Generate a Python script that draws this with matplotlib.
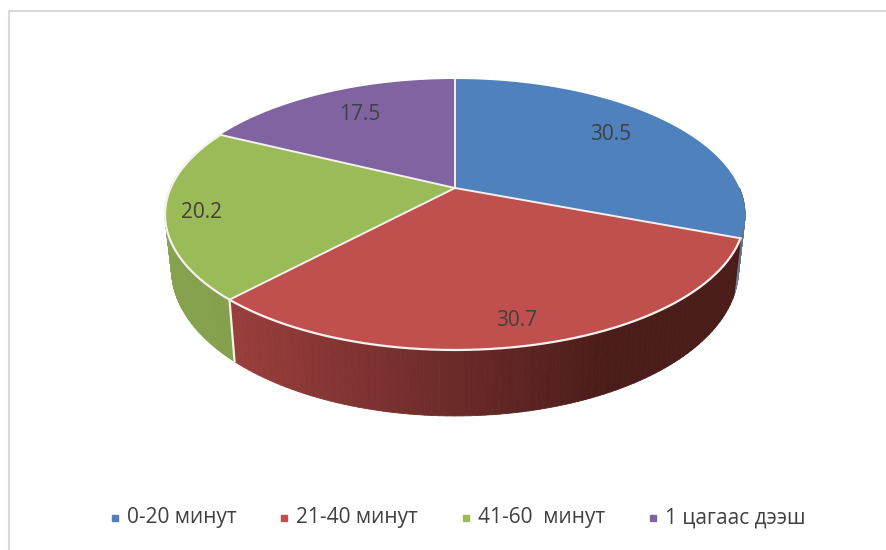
"""Perspective 3-D pie with a bottom legend."""
import matplotlib
matplotlib.use("Agg")
import matplotlib.pyplot as plt
import numpy as np
from matplotlib.collections import PolyCollection
from matplotlib.colors import to_rgb

categories = ["0-20 минут", "21-40 минут", "41-60  минут", "1 цагаас дээш"]
values = [30.5, 30.7, 20.2, 17.5]
value_labels = ["30.5", "30.7", "20.2", "17.5"]

TOP_COLORS = ["#4f81bd", "#c0504d", "#9bbb59", "#8064a2"]
# side wall shading, left end -> right end of the visible wall
SIDE_RAMPS = {
    0: ("#7f8f9f", "#4f5f6f"),
    1: ("#983e3c", "#4a1c1a"),
    2: ("#8aa653", "#84a04c"),
    3: ("#66508a", "#66508a"),
}
TEXT = "#404040"
FRAME = "#d9d9d9"

plt.rcParams["font.family"] = ["Open Sans", "DejaVu Sans"]

# perspective disc, pixel units
CX = 455
TILT = 0.1956
TOP = dict(a=284.4, b=130.3, y0=188.0)
BOT = dict(a=278.0, b=140.9, y0=240.8)


def project(theta, plane):
    u, v = np.cos(theta), np.sin(theta)
    w = 1 + TILT * v
    return CX + plane["a"] * u / w, plane["y0"] - plane["b"] * v / w


fig = plt.figure(figsize=(8.86, 5.5), dpi=100)
ax = fig.add_axes([0, 0, 1, 1])
ax.set_xlim(0, 886)
ax.set_ylim(550, 0)
ax.axis("off")

# chart frame: only the top and left edges are inside the crop
ax.plot([9, 9, 886], [550, 11, 11], color=FRAME, linewidth=1.5, zorder=1)

shares = np.array(values) / sum(values)
edges = np.pi / 2 - 2 * np.pi * np.concatenate([[0], np.cumsum(shares)])

# side walls (only the front half of the disc shows)
for i in range(len(values)):
    start, stop = edges[i], edges[i + 1]
    lo, hi = max(stop, -np.pi * 1.08), min(start, 0.0)
    if i == 3 or lo >= hi:
        continue
    ts = np.linspace(lo, hi, 90)
    quads, cols = [], []
    c_left, c_right = map(np.array, map(to_rgb, SIDE_RAMPS[i]))
    for t0, t1 in zip(ts[:-1], ts[1:]):
        x0, y0 = project(t0, TOP)
        x1, y1 = project(t1, TOP)
        x2, y2 = project(t1, BOT)
        x3, y3 = project(t0, BOT)
        quads.append([(x0, y0), (x1, y1), (x2, y2), (x3, y3)])
        f = (x0 - 236) / (610 - 236) if i == 1 else (t0 - lo) / (hi - lo)
        f = np.clip(f, 0, 1)
        cols.append(c_left * (1 - f) + c_right * f)
    ax.add_collection(PolyCollection(quads, facecolors=cols, edgecolors=cols,
                                     linewidths=0.6, zorder=2))

# white seam on the wall between red and green
x0, y0 = project(edges[2], TOP)
x1, y1 = project(edges[2], BOT)
ax.plot([x0, x1], [y0, y1], color="#f4f1e6", linewidth=1.6, zorder=3)

# top face
for i in range(len(values)):
    ts = np.linspace(edges[i], edges[i + 1], 200)
    xs, ys = project(ts, TOP)
    ax.fill(np.r_[CX, xs], np.r_[TOP["y0"], ys], color=TOP_COLORS[i],
            linewidth=0, zorder=4)
for e in edges[:-1]:
    x, y = project(e, TOP)
    ax.plot([CX, x], [TOP["y0"], y], color="#f4f1ee", linewidth=1.4, zorder=5)
ts = np.linspace(edges[1], edges[3], 300)
xs, ys = project(ts, TOP)
ax.plot(xs, ys, color="#f4f1ee", linewidth=1.6, zorder=5)

# value labels
label_x = [611, 517, 202, 360]
label_y = [134, 320, 213, 114]
for lx, ly, lab in zip(label_x, label_y, value_labels):
    ax.text(lx, ly, lab, ha="center", va="center", fontsize=15, color=TEXT, zorder=6)

# legend
marker_x = [115, 284, 466, 653]
text_x = [127, 296, 478, 665]
for mx, tx, name, col in zip(marker_x, text_x, categories, TOP_COLORS):
    ax.plot(mx, 518, marker="s", markersize=5, color=col, linestyle="none", zorder=6)
    ax.text(tx, 518, name, ha="left", va="center", fontsize=15, color=TEXT, zorder=6)

fig.savefig("out.png", dpi=100, facecolor="white")
